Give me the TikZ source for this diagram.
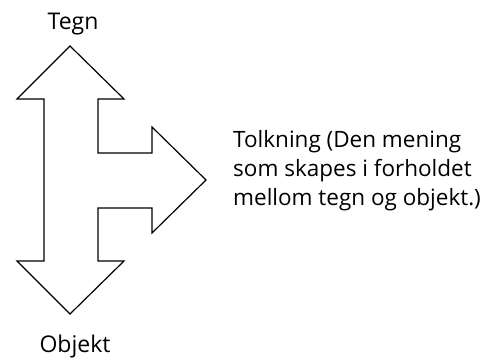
\documentclass[tikz,border=0pt]{standalone}
\usepackage{fontspec}
\setmainfont{Open Sans}
\usepackage{tikz}
\begin{document}
\begin{tikzpicture}[x=1pt, y=-1pt]
				\useasboundingbox (0,0) rectangle (486,358);
				\node[anchor=base, inner sep=0pt, font=\fontsize{23}{28}\selectfont] (tegn) at (73,30){Tegn};%
				\node[anchor=base, inner sep=0pt, font=\fontsize{23}{28}\selectfont] (objekt) at (75,352){Objekt};%
				\node[anchor=north west, inner sep=0pt, align=left, font=\fontsize{22.5}{29}\selectfont] (tolkning) at (233,130){Tolkning (Den mening\\som skapes i forholdet\\mellom tegn og objekt.)};%
				\draw[line width=1.2pt, line join=miter] (70,46) -- (124,99) -- (98,99) -- (98,153) -- (152,153) -- (152,127)
					-- (206,180) -- (152,233) -- (152,208) -- (98,208) -- (98,261) -- (124,261) -- (70,314)
					-- (17,261) -- (44,261) -- (44,99) -- (17,99) -- cycle;
			\end{tikzpicture}
\end{document}
